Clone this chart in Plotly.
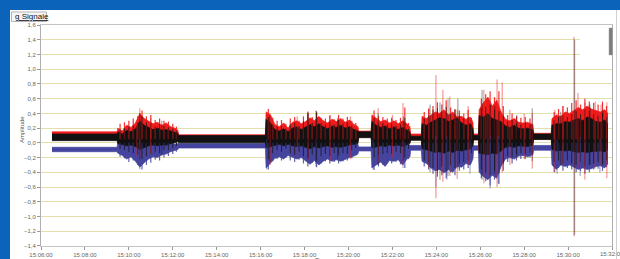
import pandas as pd
import plotly.graph_objects as go

# ---------------- data ----------------
BASE = pd.Timestamp("2024-01-01 15:06:00")

# envelope sample times, seconds after 15:06:00 (quiet A, active B, quiet C, ...)
t_sec = [
    30, 208,                                                              # A quiet
    210, 222, 234, 246, 258, 270, 282, 294, 306, 318, 330, 342, 354, 366, 374,  # B
    376, 613,                                                             # C quiet
    615, 627, 639, 651, 663, 675, 687, 699, 711, 723, 735, 747, 759, 771,
    783, 795, 807, 819, 831, 843, 855, 866,                               # D
    868, 902,                                                             # E quiet
    904, 916, 928, 940, 952, 964, 976, 988, 1000, 1008,                   # F
    1010, 1039,                                                           # G quiet
    1041, 1053, 1065, 1077, 1089, 1101, 1113, 1125, 1137, 1149, 1161, 1173, 1180,  # H
    1182, 1195,                                                           # I quiet
    1197, 1209, 1221, 1233, 1245, 1257, 1269, 1281, 1293, 1305, 1317, 1329, 1344,  # J
    1346, 1394,                                                           # K quiet
    1396, 1408, 1420, 1432, 1444, 1456, 1468, 1480, 1492, 1504, 1516, 1528, 1540, 1549,  # L
]

red_hi = [
    0.15, 0.15,
    0.20, 0.16, 0.24, 0.21, 0.27, 0.40, 0.33, 0.30, 0.26, 0.28, 0.24, 0.27, 0.22, 0.20, 0.17,
    0.11, 0.11,
    0.42, 0.38, 0.25, 0.22, 0.27, 0.20, 0.28, 0.30, 0.26, 0.29, 0.34, 0.30, 0.36, 0.30,
    0.27, 0.32, 0.29, 0.33, 0.28, 0.31, 0.25, 0.22,
    0.16, 0.16,
    0.38, 0.33, 0.29, 0.31, 0.27, 0.30, 0.26, 0.30, 0.26, 0.22,
    0.12, 0.12,
    0.36, 0.33, 0.38, 0.42, 0.40, 0.45, 0.38, 0.42, 0.35, 0.36, 0.32, 0.35, 0.28,
    0.12, 0.12,
    0.45, 0.55, 0.62, 0.50, 0.58, 0.42, 0.32, 0.30, 0.33, 0.28, 0.27, 0.28, 0.25,
    0.13, 0.13,
    0.33, 0.38, 0.36, 0.42, 0.40, 0.44, 0.48, 0.45, 0.50, 0.46, 0.44, 0.42, 0.45, 0.40,
]
red_lo = [
    0.08, 0.08,
    0.01, 0.00, -0.02, -0.01, -0.03, -0.07, -0.04, -0.02, -0.01, -0.02, -0.01, -0.01, 0.01, 0.02, 0.04,
    0.02, 0.02,
    -0.05, -0.03, -0.01, 0.00, -0.02, 0.00, -0.02, -0.03, -0.02, -0.04, -0.06, -0.03, -0.05,
    -0.03, -0.02, -0.04, -0.03, -0.04, -0.02, -0.01, 0.00, 0.01,
    0.08, 0.08,
    -0.05, -0.03, -0.02, -0.03, -0.01, -0.02, -0.01, -0.03, -0.01, 0.01,
    0.04, 0.04,
    -0.06, -0.07, -0.09, -0.11, -0.10, -0.12, -0.09, -0.11, -0.08, -0.09, -0.07, -0.06, -0.02,
    0.04, 0.04,
    -0.12, -0.13, -0.14, -0.12, -0.13, -0.09, -0.04, -0.03, -0.04, -0.02, -0.02, -0.03, -0.01,
    0.05, 0.05,
    -0.07, -0.09, -0.08, -0.09, -0.08, -0.10, -0.11, -0.10, -0.11, -0.10, -0.09, -0.09, -0.10, -0.07,
]
blk_hi = [
    0.12, 0.12,
    0.15, 0.12, 0.17, 0.15, 0.19, 0.30, 0.24, 0.21, 0.18, 0.20, 0.17, 0.18, 0.16, 0.14, 0.13,
    0.10, 0.10,
    0.32, 0.27, 0.18, 0.16, 0.19, 0.15, 0.20, 0.22, 0.18, 0.21, 0.25, 0.22, 0.26, 0.22,
    0.19, 0.23, 0.21, 0.24, 0.20, 0.22, 0.18, 0.16,
    0.15, 0.15,
    0.29, 0.24, 0.21, 0.23, 0.19, 0.22, 0.18, 0.21, 0.18, 0.15,
    0.09, 0.09,
    0.26, 0.24, 0.28, 0.31, 0.34, 0.33, 0.29, 0.31, 0.34, 0.27, 0.24, 0.26, 0.19,
    0.10, 0.10,
    0.37, 0.35, 0.40, 0.33, 0.31, 0.29, 0.23, 0.21, 0.24, 0.20, 0.19, 0.20, 0.18,
    0.12, 0.12,
    0.24, 0.26, 0.26, 0.29, 0.28, 0.31, 0.33, 0.30, 0.35, 0.33, 0.29, 0.28, 0.31, 0.26,
]
blk_lo = [
    0.03, 0.03,
    -0.01, -0.02, -0.04, -0.03, -0.05, -0.09, -0.06, -0.04, -0.03, -0.04, -0.03, -0.03, -0.01, 0.00, 0.02,
    0.00, 0.00,
    -0.07, -0.05, -0.03, -0.02, -0.04, -0.02, -0.04, -0.05, -0.04, -0.06, -0.08, -0.05, -0.07,
    -0.05, -0.04, -0.06, -0.05, -0.06, -0.04, -0.03, -0.02, -0.01,
    0.07, 0.07,
    -0.07, -0.05, -0.04, -0.05, -0.03, -0.04, -0.03, -0.05, -0.03, -0.01,
    0.035, 0.035,
    -0.08, -0.09, -0.11, -0.13, -0.12, -0.14, -0.11, -0.13, -0.10, -0.11, -0.09, -0.08, -0.04,
    0.04, 0.04,
    -0.14, -0.15, -0.16, -0.14, -0.15, -0.11, -0.06, -0.05, -0.06, -0.04, -0.04, -0.05, -0.03,
    0.045, 0.045,
    -0.09, -0.11, -0.10, -0.11, -0.10, -0.12, -0.13, -0.12, -0.13, -0.12, -0.11, -0.11, -0.12, -0.09,
]
blu_hi = [
    -0.06, -0.06,
    0.02, 0.00, 0.04, 0.02, 0.06, 0.10, 0.06, 0.04, 0.02, 0.04, 0.02, 0.03, 0.00, -0.02, -0.01,
    -0.01, -0.01,
    0.05, 0.04, 0.00, -0.01, 0.02, -0.02, 0.03, 0.04, 0.02, 0.05, 0.08, 0.04, 0.07, 0.04,
    0.02, 0.05, 0.03, 0.04, 0.02, 0.03, 0.00, -0.02,
    -0.055, -0.055,
    0.04, 0.02, 0.00, 0.02, -0.01, 0.01, -0.02, 0.02, -0.02, -0.03,
    -0.035, -0.035,
    0.03, 0.02, 0.05, 0.06, 0.06, 0.08, 0.05, 0.06, 0.04, 0.04, 0.02, 0.03, -0.02,
    -0.04, -0.04,
    0.06, 0.08, 0.10, 0.06, 0.08, 0.04, 0.00, -0.01, 0.01, -0.02, -0.02, -0.01, -0.02,
    -0.035, -0.035,
    0.03, 0.05, 0.04, 0.05, 0.04, 0.06, 0.07, 0.06, 0.08, 0.07, 0.05, 0.05, 0.06, 0.03,
]
blu_lo = [
    -0.12, -0.12,
    -0.14, -0.17, -0.22, -0.19, -0.25, -0.33, -0.27, -0.22, -0.19, -0.20, -0.16, -0.15, -0.12, -0.10, -0.09,
    -0.07, -0.07,
    -0.34, -0.28, -0.21, -0.19, -0.22, -0.17, -0.20, -0.22, -0.20, -0.24, -0.29, -0.24, -0.30,
    -0.25, -0.22, -0.25, -0.23, -0.25, -0.22, -0.20, -0.18, -0.15,
    -0.11, -0.11,
    -0.34, -0.30, -0.26, -0.32, -0.24, -0.25, -0.23, -0.30, -0.22, -0.19,
    -0.10, -0.10,
    -0.25, -0.28, -0.34, -0.38, -0.36, -0.41, -0.36, -0.40, -0.32, -0.33, -0.28, -0.30, -0.22,
    -0.10, -0.10,
    -0.40, -0.46, -0.50, -0.44, -0.48, -0.32, -0.22, -0.20, -0.22, -0.18, -0.17, -0.19, -0.16,
    -0.10, -0.10,
    -0.30, -0.36, -0.30, -0.32, -0.30, -0.33, -0.36, -0.34, -0.36, -0.35, -0.32, -0.31, -0.34, -0.28,
]

# fringe peaks between envelope samples (active segments B, D, F, H, J, L)
fr_t = [
    216, 228, 240, 252, 264, 276, 288, 300, 312, 324, 336, 348, 360, 370,
    621, 633, 645, 657, 669, 681, 693, 705, 717, 729, 741, 753, 765, 777, 789, 801,
    813, 825, 837, 849, 860,
    910, 922, 934, 946, 958, 970, 982, 994, 1004,
    1047, 1059, 1071, 1083, 1095, 1107, 1119, 1131, 1143, 1155, 1167, 1176,
    1203, 1215, 1227, 1239, 1251, 1263, 1275, 1287, 1299, 1311, 1323, 1336,
    1402, 1414, 1426, 1438, 1450, 1462, 1474, 1486, 1498, 1510, 1522, 1534, 1545,
]
fr_red_top = [
    0.26, 0.28, 0.30, 0.33, 0.36, 0.44, 0.36, 0.38, 0.31, 0.33, 0.30, 0.29, 0.26, 0.22,
    0.46, 0.34, 0.30, 0.31, 0.26, 0.33, 0.35, 0.30, 0.36, 0.40, 0.35, 0.41, 0.34, 0.33, 0.37, 0.32,
    0.38, 0.33, 0.35, 0.30, 0.27,
    0.44, 0.36, 0.35, 0.33, 0.34, 0.31, 0.34, 0.48, 0.27,
    0.42, 0.46, 0.50, 0.55, 0.52, 0.58, 0.48, 0.46, 0.44, 0.40, 0.45, 0.34,
    0.60, 0.66, 0.70, 0.62, 0.70, 0.50, 0.38, 0.40, 0.36, 0.34, 0.35, 0.33,
    0.42, 0.46, 0.50, 0.48, 0.54, 0.58, 0.52, 0.60, 0.56, 0.54, 0.52, 0.56, 0.50,
]
fr_blk_top = [
    0.18, 0.20, 0.22, 0.24, 0.27, 0.36, 0.28, 0.27, 0.22, 0.25, 0.23, 0.21, 0.19, 0.16,
    0.35, 0.25, 0.22, 0.23, 0.19, 0.25, 0.27, 0.23, 0.29, 0.42, 0.27, 0.43, 0.27, 0.25, 0.29, 0.25,
    0.31, 0.26, 0.28, 0.23, 0.19,
    0.33, 0.27, 0.27, 0.25, 0.26, 0.23, 0.25, 0.34, 0.19,
    0.33, 0.37, 0.45, 0.47, 0.43, 0.49, 0.39, 0.45, 0.37, 0.33, 0.35, 0.25,
    0.47, 0.49, 0.52, 0.45, 0.43, 0.37, 0.29, 0.31, 0.27, 0.25, 0.27, 0.25,
    0.31, 0.35, 0.37, 0.35, 0.39, 0.43, 0.39, 0.45, 0.43, 0.39, 0.37, 0.41, 0.35,
]
fr_blk_bot = [
    -0.08, -0.10, -0.12, -0.14, -0.16, -0.22, -0.18, -0.15, -0.12, -0.14, -0.10, -0.10, -0.07, -0.04,
    -0.22, -0.14, -0.10, -0.12, -0.08, -0.14, -0.16, -0.12, -0.18, -0.22, -0.16, -0.24, -0.18, -0.15, -0.18, -0.14,
    -0.17, -0.14, -0.15, -0.10, -0.07,
    -0.20, -0.16, -0.15, -0.14, -0.15, -0.12, -0.14, -0.20, -0.08,
    -0.24, -0.28, -0.34, -0.38, -0.32, -0.40, -0.30, -0.34, -0.28, -0.26, -0.24, -0.14,
    -0.36, -0.40, -0.44, -0.38, -0.42, -0.28, -0.18, -0.20, -0.16, -0.14, -0.15, -0.13,
    -0.26, -0.24, -0.28, -0.24, -0.28, -0.30, -0.26, -0.32, -0.30, -0.28, -0.26, -0.30, -0.24,
]
fr_blu_bot = [
    -0.19, -0.21, -0.26, -0.24, -0.30, -0.36, -0.30, -0.27, -0.23, -0.24, -0.20, -0.18, -0.15, -0.12,
    -0.36, -0.25, -0.22, -0.24, -0.20, -0.24, -0.26, -0.23, -0.28, -0.32, -0.27, -0.33, -0.28, -0.25, -0.28, -0.26,
    -0.28, -0.25, -0.24, -0.21, -0.17,
    -0.37, -0.32, -0.30, -0.28, -0.28, -0.26, -0.29, -0.34, -0.22,
    -0.32, -0.36, -0.42, -0.46, -0.44, -0.48, -0.40, -0.44, -0.38, -0.36, -0.34, -0.26,
    -0.48, -0.52, -0.58, -0.50, -0.56, -0.38, -0.26, -0.28, -0.24, -0.22, -0.22, -0.20,
    -0.40, -0.34, -0.38, -0.34, -0.36, -0.40, -0.38, -0.42, -0.40, -0.36, -0.35, -0.38, -0.33,
]

# isolated tall spikes: time (s after 15:06:00), top, bottom
red_spk_t = [262, 270, 300, 626, 700, 730, 790, 845, 921, 960, 989, 1060, 1079, 1098, 1117,
             1137, 1167, 1210, 1221, 1246, 1260, 1281, 1320, 1342, 1404, 1426, 1456, 1467,
             1486, 1514, 1530, 1546]
red_spk_hi = [0.30, 0.47, 0.34, 0.40, 0.36, 0.43, 0.38, 0.36, 0.47, 0.38, 0.54, 0.48, 0.92, 0.72, 0.63,
              0.45, 0.50, 0.72, 0.62, 0.86, 0.82, 0.45, 0.40, 0.40, 0.45, 0.50, 1.44, 0.68,
              0.55, 0.56, 0.52, 0.55]
red_spk_lo = [-0.18, -0.20, -0.15, -0.30, -0.20, -0.22, -0.25, -0.22, -0.28, -0.20, -0.30, -0.35, -0.75, -0.53, -0.45,
              -0.49, -0.30, -0.55, -0.45, -0.60, -0.40, -0.30, -0.22, -0.35, -0.40, -0.30, -1.27, -0.35,
              -0.50, -0.35, -0.30, -0.48]

blk_spk_t = [270, 330, 625, 730, 751, 810, 921, 990, 1063, 1090, 1112, 1139, 1205, 1240,
             1300, 1342, 1420, 1458, 1500, 1535]
blk_spk_hi = [0.40, 0.30, 0.37, 0.40, 0.44, 0.34, 0.40, 0.36, 0.52, 0.55, 0.60, 0.60, 0.72, 0.50,
              0.38, 0.47, 0.42, 1.40, 0.52, 0.45]
blk_spk_lo = [-0.22, -0.18, -0.25, -0.20, -0.28, -0.22, -0.30, -0.24, -0.40, -0.50, -0.45, -0.35, -0.50, -0.42,
              -0.20, -0.25, -0.30, -1.25, -0.30, -0.28]

blu_spk_t = [270, 617, 751, 907, 989, 1079, 1109, 1172, 1227, 1249, 1410, 1473, 1527]
blu_spk_hi = [0.05, 0.05, 0.05, 0.04, 0.02, 0.10, 0.10, 0.05, 0.10, 0.10, 0.05, 0.08, 0.06]
blu_spk_lo = [-0.36, -0.36, -0.32, -0.36, -0.34, -0.60, -0.50, -0.42, -0.62, -0.55, -0.42, -0.45, -0.40]

Y_TICKS = [-1.4, -1.2, -1.0, -0.8, -0.6, -0.4, -0.2, 0.0, 0.2, 0.4, 0.6, 0.8, 1.0, 1.2, 1.4, 1.6]
X_START, X_END = "15:06:00", "15:32:00"

# ---------------- helpers ----------------
def ts(s):
    return (BASE + pd.Timedelta(seconds=s)).strftime("%Y-%m-%d %H:%M:%S")

times = [ts(s) for s in t_sec]

def segs(tl, hl, ll):
    xs, ys = [], []
    for t, h, l in zip(tl, hl, ll):
        xs += [ts(t), ts(t), None]
        ys += [h, l, None]
    return xs, ys

W, H = 620, 259
L, R, T, B = 41, 612, 25, 246

def px(x):
    return (x - L) / (R - L)

def py(y):
    return (B - y) / (B - T)

RED = "#ee1c1c"
BLK = "#111111"
BLU = "#45459f"

fig = go.Figure()

def band(hi, lo, color):
    fig.add_trace(go.Scatter(x=times, y=hi, mode="lines", line=dict(color=color, width=0.7),
                             showlegend=False, hoverinfo="skip"))
    fig.add_trace(go.Scatter(x=times, y=lo, mode="lines", line=dict(color=color, width=0.7),
                             fill="tonexty", fillcolor=color, showlegend=False, hoverinfo="skip"))

def lines(xs, ys, color, width):
    fig.add_trace(go.Scatter(x=xs, y=ys, mode="lines", line=dict(color=color, width=width),
                             connectgaps=False, showlegend=False, hoverinfo="skip"))

band(blu_hi, blu_lo, BLU)
band(red_hi, red_lo, RED)
band(blk_hi, blk_lo, BLK)

# fringe: blue downward, red upward, black both ways
lines(*segs(fr_t, [0.0] * len(fr_t), fr_blu_bot), "rgba(69,69,159,0.85)", 1.2)
lines(*segs(fr_t, fr_red_top, [0.05] * len(fr_t)), "rgba(238,28,28,0.9)", 1.2)
lines(*segs(fr_t, fr_blk_top, fr_blk_bot), "rgba(17,17,17,0.7)", 1.0)

# tall spikes
lines(*segs(blu_spk_t, blu_spk_hi, blu_spk_lo), "rgba(69,69,159,0.55)", 1)
lines(*segs(red_spk_t, red_spk_hi, red_spk_lo), "rgba(238,28,28,0.55)", 1)
lines(*segs(blk_spk_t, blk_spk_hi, blk_spk_lo), "rgba(20,20,20,0.45)", 1)

shapes = [
    # window frame (blue)
    dict(type="rect", xref="paper", yref="paper", x0=px(-2), x1=px(W + 2), y0=py(-2), y1=py(10),
         fillcolor="#0b64b9", line=dict(width=0), layer="above"),
    dict(type="rect", xref="paper", yref="paper", x0=px(-2), x1=px(10), y0=py(H + 2), y1=py(-2),
         fillcolor="#0b64b9", line=dict(width=0), layer="above"),
    dict(type="line", xref="paper", yref="paper", x0=px(616.5), x1=px(616.5), y0=py(10), y1=py(H),
         line=dict(color="#d0d0d0", width=1), layer="above"),
    # tab
    dict(type="rect", xref="paper", yref="paper", x0=px(11.5), x1=px(46.5), y0=py(21.5), y1=py(12),
         fillcolor="#f6f6f6", line=dict(color="#b5b5b5", width=1), layer="above"),
    # cursor legend box + bar at top right
    dict(type="rect", xref="paper", yref="paper", x0=px(580), x1=px(609), y0=py(58), y1=py(27),
         fillcolor="white", line=dict(width=0), layer="above"),
    dict(type="rect", xref="paper", yref="paper", x0=px(609), x1=px(612.5), y0=py(55), y1=py(28),
         fillcolor="#7d7d7d", line=dict(color="#a0a0a0", width=0.5), layer="above"),
]

tickfont = dict(family="Liberation Sans", size=6, color="#666666")

annotations = [
    dict(text="<u>g Signale</u>", xref="paper", yref="paper", x=px(12.5), y=py(16.8),
         xanchor="left", yanchor="middle", showarrow=False,
         font=dict(family="Liberation Sans", size=8, color="#111111")),
    dict(text="Amplitude", xref="paper", yref="paper", x=px(22), y=py(130), textangle=-90,
         xanchor="center", yanchor="middle", showarrow=False,
         font=dict(family="Liberation Sans", size=6, color="#555555")),
    dict(text="Time", xref="paper", yref="paper", x=px(322), y=py(255),
         xanchor="center", yanchor="top", showarrow=False,
         font=dict(family="Liberation Sans", size=6, color="#555555")),
    # last tick label, running off the right edge of the window
    dict(text=X_END, xref="paper", yref="paper", x=px(612), y=py(249),
         xanchor="center", yanchor="top", showarrow=False, font=tickfont),
]

fig.update_layout(
    width=W, height=H,
    margin=dict(l=L, r=W - R, t=T, b=H - B, pad=0, autoexpand=False),
    paper_bgcolor="white", plot_bgcolor="white",
    separators=",.",
    showlegend=False,
    shapes=shapes, annotations=annotations,
    xaxis=dict(type="date", range=[f"2024-01-01 {X_START}", f"2024-01-01 {X_END}"],
               dtick=120000, tickformat="%H:%M:%S", ticks="outside", ticklen=3,
               tickcolor="#999999", tickfont=tickfont, automargin=False,
               showgrid=False, showline=True, linecolor="#c4c4c4", mirror=True, zeroline=False),
    yaxis=dict(range=[-1.4005, 1.6005], tickmode="array", tickvals=Y_TICKS, tickformat=".1f",
               ticks="outside", ticklen=3, tickcolor="#999999", tickfont=tickfont, automargin=False,
               showgrid=True, gridcolor="#e3dfaa", gridwidth=1,
               showline=True, linecolor="#b0b0b0", mirror=True, zeroline=False),
)

fig.write_html("out.html",
               config={"displayModeBar": False, "responsive": False},
               post_script="document.body.style.margin='0px';document.body.style.overflow='hidden';")
